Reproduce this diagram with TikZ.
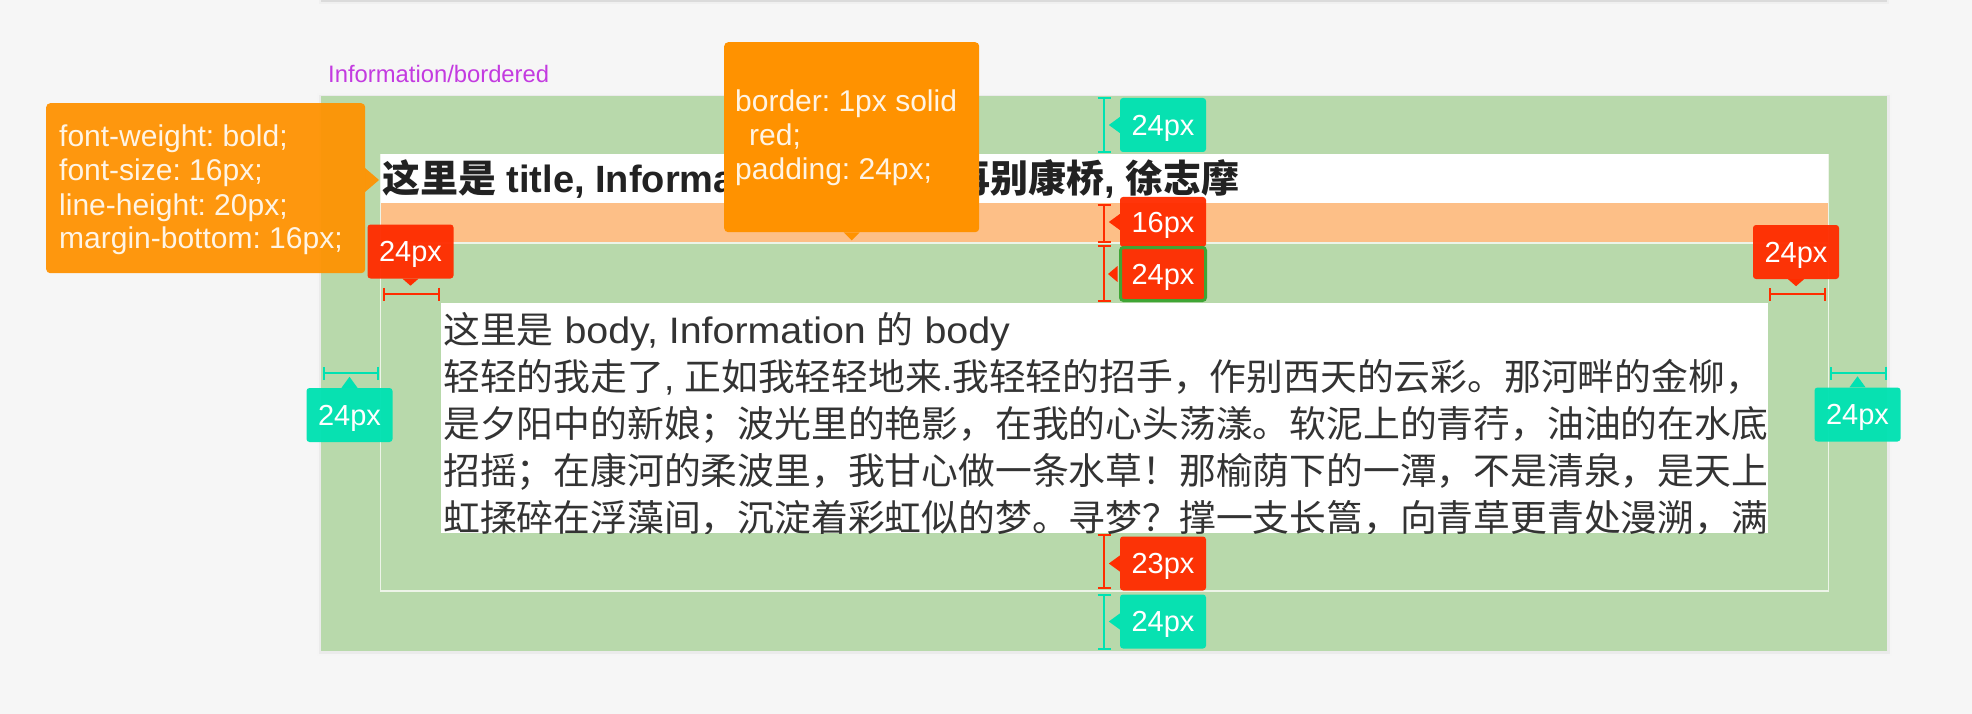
\documentclass[tikz,border=0pt]{standalone}
\usepackage{fontspec}
\setmainfont{Liberation Sans}
\newfontfamily\cjk{Noto Sans CJK SC}
\newfontfamily\latwide[FakeStretch=1.07]{Liberation Sans}
\usetikzlibrary{arrows.meta}
\definecolor{bg}{HTML}{F6F6F6}
\definecolor{boxgreen}{HTML}{B8D9AB}
\definecolor{peach}{HTML}{FDBF87}
\definecolor{tipor}{HTML}{FF9200}
\definecolor{mred}{HTML}{FF2D00}
\definecolor{mteal}{HTML}{00E2B2}
\definecolor{purp}{HTML}{C33BE0}
\definecolor{selgreen}{HTML}{3FA535}
\definecolor{bordline}{HTML}{EDF4E8}
\definecolor{txt}{HTML}{333333}
\definecolor{ttl}{HTML}{222222}
\definecolor{tiptext}{HTML}{FFF4E4}
\frenchspacing
\begin{document}
\begin{tikzpicture}[x=1pt,y=-1pt,
  lab/.style={rectangle, rounded corners=3pt, minimum width=86pt, minimum height=54pt,
    inner sep=0pt, text=white, font=\fontsize{29}{34}\selectfont,
    text height=20.8pt, text depth=0pt, fill opacity=0.96, text opacity=1},
  tipbox/.style={rectangle, rounded corners=4pt, fill=tipor, inner sep=0pt},
  tipline/.style={anchor=base west, inner sep=0pt, text=tiptext, font=\fontsize{30}{34}\selectfont},
  bodyline/.style={anchor=base west, inner sep=0pt, text=txt, font=\fontsize{36.8}{46}\selectfont},
  meas/.style={line width=2pt, arrows={Bar[width=13pt]-Bar[width=13pt]}}
]
\useasboundingbox (0,0) rectangle (1972,714);
\fill[bg] (0,0) rectangle (1972,714);
% top bar shadow
\fill[black!6] (319,-4) rectangle (1889,4);
\fill[black!14] (321,-4) rectangle (1887,2);
\fill[bg!50!white] (321,-4) rectangle (1887,0.5);
% caption
\node[anchor=base west, inner sep=0pt, text=purp, font=\fontsize{23.8}{27}\selectfont] (cap) at (328,83) {Information/bordered};
% green box with soft shadow
\fill[black!4] (317,93) rectangle (1892,656);
\fill[black!8] (319,95) rectangle (1890,654);
\fill[boxgreen] (321,96) rectangle (1887,651);
% title and margin
\fill[white] (380,154) rectangle (1829,203);
\fill[peach] (380,203) rectangle (1829,242);
\draw[bordline, line width=1.6pt] (380.5,154) -- (380.5,591) -- (1828.5,591) -- (1828.5,154);
\draw[bordline, line width=2pt] (380,243) -- (1829,243);
% body
\fill[white] (441,303) rectangle (1768,533);
\begin{scope}
\clip (441,303) rectangle (1768,533);
\node[bodyline] (b1) at (443,343) {{\cjk 这里是}{\latwide{} body, Information }{\cjk 的}{\latwide{} body}};
\node[bodyline] (b2) at (443,390) {{\cjk 轻轻的我走了}, {\cjk 正如我轻轻地来}.{\cjk 我轻轻的招手，作别西天的云彩。那河畔的金柳，}};
\node[bodyline] (b3) at (443,437) {\cjk 是夕阳中的新娘；波光里的艳影，在我的心头荡漾。软泥上的青荇，油油的在水底};
\node[bodyline] (b4) at (443,484) {\cjk 招摇；在康河的柔波里，我甘心做一条水草！那榆荫下的一潭，不是清泉，是天上};
\node[bodyline] (b5) at (443,531) {\cjk 虹揉碎在浮藻间，沉淀着彩虹似的梦。寻梦？撑一支长篙，向青草更青处漫溯，满};
\end{scope}
% title text
\node[anchor=base west, inner sep=0pt, text=ttl, font=\fontsize{38}{44}\selectfont\bfseries] (title) at (382,193)
  {{\cjk 这里是} title, Information {\cjk 的} title, {\cjk 再别康桥}, {\cjk 徐志摩}};
% measure lines
\draw[meas, mteal] (1104,97) -- (1104,153);
\draw[meas, mred] (1104,204) -- (1104,243);
\draw[meas, mred] (1104,245) -- (1104,302);
\draw[meas, mred] (383,294) -- (440,294);
\draw[meas, mred] (1769,294) -- (1826,294);
\draw[meas, mteal] (323,373) -- (379,373);
\draw[meas, mteal] (1830,373) -- (1887,373);
\draw[meas, mred] (1104,534) -- (1104,589);
\draw[meas, mteal] (1104,594) -- (1104,650);
% labels
\node[lab, fill=mteal] (t1) at (1163,125) {24px};
\fill[mteal] (t1.west) ++(0,-8) -- ++(-11,8) -- ++(11,8) -- cycle;
\node[lab, fill=mred, minimum height=50pt] (r16) at (1163,222) {16px};
\fill[mred] (r16.west) ++(0,-8) -- ++(-11,8) -- ++(11,8) -- cycle;
\node[lab, fill=mred, draw=selgreen, draw opacity=1, line width=3pt, minimum width=85pt, minimum height=53pt] (r24g) at (1163,274) {24px};
\fill[mred] (r24g.west) ++(-1.5,-8) -- ++(-9.5,8) -- ++(9.5,8) -- cycle;
\node[lab, fill=mred] (r24l) at (410.5,251.5) {24px};
\fill[mred] (r24l.south) ++(-8,0) -- ++(8,7) -- ++(8,-7) -- cycle;
\node[lab, fill=mred] (r24r) at (1796,252) {24px};
\fill[mred] (r24r.south) ++(-8,0) -- ++(8,7) -- ++(8,-7) -- cycle;
\node[lab, fill=mteal] (t24l) at (349.5,415) {24px};
\fill[mteal] (t24l.north) ++(-8,0) -- ++(8,-11) -- ++(8,11) -- cycle;
\node[lab, fill=mteal] (t24r) at (1857.5,414.5) {24px};
\fill[mteal] (t24r.north) ++(-8,0) -- ++(8,-11) -- ++(8,11) -- cycle;
\node[lab, fill=mred] (r23) at (1163,563.5) {23px};
\fill[mred] (r23.west) ++(0,-8) -- ++(-11,8) -- ++(11,8) -- cycle;
\node[lab, fill=mteal] (t24b) at (1163,621.5) {24px};
\fill[mteal] (t24b.west) ++(0,-8) -- ++(-11,8) -- ++(11,8) -- cycle;
% tooltip 1
\node[tipbox, fill opacity=0.94, minimum width=319pt, minimum height=170pt, anchor=north west] (tt1) at (46,103) {};
\fill[tipor, fill opacity=0.94] (365,168) -- (379,180) -- (365,192) -- cycle;
\node[tipline] (tt1a) at (59,147) {font-weight: bold;};
\node[tipline] (tt1b) at (59,181) {font-size: 16px;};
\node[tipline] (tt1c) at (59,215) {line-height: 20px;};
\node[tipline] (tt1d) at (59,248) {margin-bottom: 16px;};
% tooltip 2
\node[tipbox, minimum width=255pt, minimum height=190pt, anchor=north west] (tt2) at (724,42) {};
\fill[tipor] (tt2.south) ++(-8,0) -- ++(8,8) -- ++(8,-8) -- cycle;
\node[tipline] (tt2a) at (735,112) {border: 1px solid};
\node[tipline] (tt2b) at (749,146) {red;};
\node[tipline] (tt2c) at (735,180) {padding: 24px;};
\end{tikzpicture}
\end{document}
